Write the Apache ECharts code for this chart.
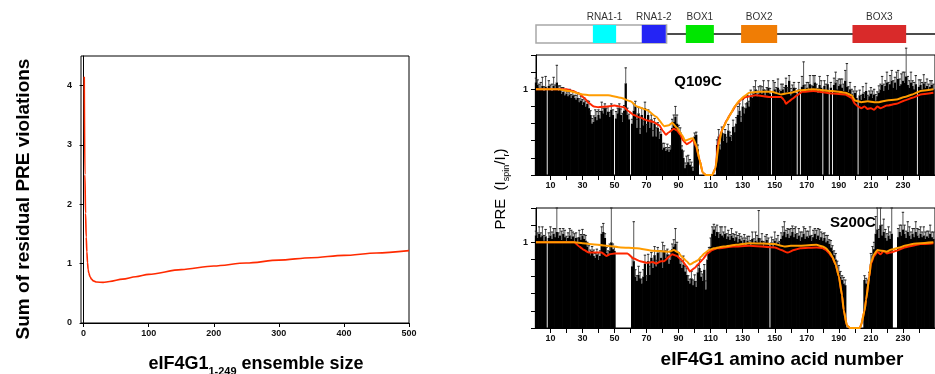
<!DOCTYPE html>
<html><head><meta charset="utf-8">
<script src="https://cdn.jsdelivr.net/npm/echarts@6/dist/echarts.min.js"></script>
<style>html,body{margin:0;padding:0;background:#fff}#c{width:935px;height:374px}</style>
</head><body><div id="c"></div><script>
// ---------- Left chart data ----------
const ensembleSize = [1,2,3,4,5,6,7,8,10,12,15,20,30,40,60,80,100,150,200,250,300,350,400,450,500];
const violationSum = [4.15,2.5,1.85,1.45,1.2,1.02,0.9,0.84,0.78,0.74,0.71,0.69,0.685,0.7,0.74,0.78,0.82,0.9,0.96,1.01,1.06,1.1,1.14,1.18,1.22];
const ensembleTicks = [0,100,200,300,400,500];
const violationTicks = [0,1,2,3,4];

// ---------- Domain diagram ----------
const domainNames  = ['', 'RNA1-1', 'RNA1-2', 'BOX1', 'BOX2', 'BOX3'];
const domainStart  = [1, 36.5, 67, 94.5, 129, 198.5];
const domainEnd    = [82.5, 51, 82, 112, 151.5, 232];
const domainColors = ['#ffffff', '#00ffff', '#2424f5', '#00e600', '#f07d05', '#d92a2a'];
const backbone = [[82.5, 0.5], [250, 0.5]];

// ---------- PRE panels ----------
const residueTicks = [10,20,30,40,50,60,70,80,90,100,110,120,130,140,150,160,170,180,190,200,210,220,230,240];
const residueLabels = [10,30,50,70,90,110,130,150,170,190,210,230];
const preTicks = [0,0.2,0.4,0.6,0.8,1,1.2,1.4];
const preLabels = [1];

const Q109C_pre = [
1.08,1.05,1.02,1.00,1.04,0.98,1.03,0,1.04,1.00,
0.98,1.04,1.00,1.08,0.98,1.00,0.95,0.97,0.93,0.95,
0.92,0.94,0.90,0.93,0.90,0.88,0.90,0.85,0.87,0.82,
0.85,0.80,0.83,0.78,0.70,0.60,0.62,0.68,0.64,0.70,
0.66,0.75,0.72,0.78,0.70,0.74,0.68,0.76,0.70,0,
0.66,0.72,0.78,0.70,0.62,0.75,1.07,0.70,0.65,0,
0.60,0.75,0.80,0.55,0.72,0.48,0.70,0.58,0.78,0.50,
0.70,0.55,0.65,0.45,0.60,0.45,0.55,0.42,0.48,0.30,
0.32,0.28,0.30,0.27,0.30,0.55,0.62,0.68,0.60,0.52,
0.50,0.30,0.20,0.08,0.12,0.15,0.12,0.10,0.05,0.45,
0.47,0.30,0,0,0,0,0,0,0,0,
0,0,0,0.35,0.45,0.30,0.50,0.40,0.48,0.38,
0.52,0.45,0.40,0.56,0.50,0.60,0.70,0.75,0.62,0.80,
0.72,0.78,0.85,0.80,0.92,0.90,0.95,1.00,0.92,0.95,
0.98,0.95,1.00,0.93,0.97,1.02,0.95,0,0.98,1.00,
0.96,1.02,0.94,0.98,1.00,0.95,1.05,0.97,1.10,0.93,
0.98,1.02,0.96,0,1.00,0,1.03,1.05,0.98,1.02,
1.00,1.06,0.98,1.04,1.08,1.00,0.96,1.05,1.02,0,
1.04,0.98,1.06,0,1.02,0,1.05,1.08,1.00,1.04,
1.06,1.02,0.98,1.10,1.03,0.97,1.00,0.95,0.92,0.96,
0.90,0,0.93,0.88,0.95,0.90,0.98,0.88,0.92,0.95,
0.90,0.94,0.87,0.92,0.96,1.00,1.05,0.98,1.04,1.08,
1.00,1.06,1.10,1.02,1.08,1.00,1.12,1.04,1.06,1.10,
1.08,1.15,1.05,1.02,1.08,1.04,1.00,1.06,0,1.03,
1.05,1.00,1.07,1.02,1.04,1.00,1.03,1.05,1.00];
const Q109C_err = [
.05,.06,.04,.08,.10,.05,.12,0,.06,.05,
.08,.10,.05,.20,.06,.04,.07,.05,.06,.04,
.05,.06,.04,.05,.03,.05,.06,.04,.05,.06,
.05,.06,.04,.08,.05,.06,.07,.08,.10,.06,
.08,.10,.06,.05,.08,.06,.05,.07,.06,0,
.08,.06,.05,.07,.10,.06,.18,.08,.06,0,
.05,.08,.06,.10,.07,.06,.08,.05,.07,.09,
.06,.08,.05,.07,.06,.10,.06,.08,.05,.07,
.05,.04,.06,.05,.04,.10,.08,.12,.10,.06,
.05,.04,.08,.06,.10,.08,.06,.05,.04,.04,
.03,.05,0,0,0,0,0,0,0,0,
0,0,0,.06,.08,.05,.06,.08,.05,.06,
.07,.05,.06,.08,.06,.07,.10,.08,.06,.08,
.06,.05,.08,.06,.07,.06,.08,.10,.06,.08,
.06,.08,.10,.06,.05,.08,.06,0,.12,.08,
.06,.10,.05,.08,.06,.07,.08,.05,.06,.08,
.07,.06,.05,0,.08,0,.12,.27,.07,.06,
.08,.10,.06,.12,.08,.06,.05,.10,.08,0,
.06,.08,.10,0,.06,0,.08,.12,.10,.08,
.06,.10,.08,.12,.27,.06,.08,.05,.06,.07,
.08,0,.06,.05,.08,.06,.09,.05,.06,.07,
.08,.06,.07,.05,.08,.06,.10,.08,.06,.12,
.08,.10,.12,.08,.06,.20,.10,.08,.12,.10,
.12,.33,.10,.08,.12,.06,.08,.10,0,.08,
.06,.08,.10,.06,.08,.06,.07,.05,.06];
const Q109C_fitOrange = [[1,1.0],[15,1.0],[22,0.98],[30,0.94],[34,0.93],[46,0.93],[54,0.9],[60,0.86],[64,0.8],[70,0.76],[76,0.68],[81,0.57],[84,0.58],[86,0.61],[89,0.55],[92,0.47],[94,0.4],[97,0.42],[99,0.43],[101,0.35],[103,0.18],[105,0.03],[107,0],[111,0],[113,0.08],[115,0.35],[117,0.52],[120,0.63],[122,0.7],[125,0.8],[128,0.87],[131,0.92],[134,0.96],[140,0.97],[148,0.97],[154,0.94],[157,0.95],[160,0.96],[166,0.99],[174,1.0],[186,0.98],[194,0.96],[198,0.93],[200,0.87],[204,0.85],[208,0.86],[212,0.85],[215,0.85],[220,0.87],[226,0.88],[231,0.91],[236,0.94],[241,0.98],[249,1.0]];
const Q109C_fitRed = [[1,1.0],[20,1.0],[24,0.98],[28,0.95],[31,0.9],[34,0.84],[37,0.8],[40,0.79],[46,0.8],[50,0.81],[53,0.8],[56,0.79],[59,0.74],[62,0.7],[66,0.67],[70,0.64],[74,0.62],[78,0.58],[80,0.52],[82,0.47],[84,0.5],[87,0.54],[89,0.52],[91,0.47],[93,0.4],[95,0.36],[97,0.38],[99,0.41],[101,0.33],[103,0.18],[105,0.03],[107,0],[111,0],[113,0.08],[115,0.42],[118,0.56],[120,0.64],[123,0.73],[126,0.82],[129,0.88],[132,0.91],[138,0.93],[148,0.91],[154,0.91],[156,0.87],[157,0.83],[159,0.86],[161,0.89],[164,0.93],[167,0.97],[174,0.98],[186,0.95],[194,0.94],[198,0.9],[200,0.83],[202,0.8],[204,0.78],[206,0.8],[208,0.77],[210,0.78],[212,0.76],[214,0.8],[216,0.78],[220,0.81],[226,0.83],[231,0.87],[236,0.9],[241,0.94],[249,0.96]];

const S200C_pre = [
1.08,1.05,1.10,1.06,1.08,1.02,1.07,0,1.05,1.08,
1.04,1.10,1.06,1.12,1.05,1.08,1.03,1.10,1.06,1.02,
1.05,1.08,1.04,1.07,1.02,1.05,1.00,1.06,1.03,1.08,
1.04,1.02,0.95,0.88,0.85,0.90,0.84,0.82,0.86,0.80,
0.84,1.10,1.12,1.05,0.88,0.85,0.90,1.00,0.92,0.90,
0,0,0,0,0,0,0,0,0,0,
0.72,0.78,0.60,0.55,0.62,0.58,0.52,0.60,0.75,0.55,
0.78,0.62,0.82,0.70,0.85,0.72,0.88,0.78,0.82,0.70,
0.90,0.82,0.86,0.75,0.80,0.92,0.95,0.98,0.90,0.82,
0.75,0.70,0.74,0.66,0.62,0.55,0.52,0.58,0.50,0.55,
0.48,0.65,0.70,0.60,0.55,0.68,0.45,0.80,0.88,0.95,
1.10,1.15,1.08,1.12,1.05,1.10,1.08,1.06,1.10,1.04,
1.07,1.03,1.08,1.05,1.02,1.06,1.00,1.04,1.02,0.98,
1.03,0.97,1.02,1.00,0.96,1.04,0.98,1.02,1.00,1.05,
0.98,1.02,0.96,1.00,1.03,0.97,0,1.00,0.95,1.02,
0.98,1.00,0.96,1.04,1.08,1.12,1.06,1.10,1.05,1.08,
1.12,1.06,1.10,1.04,1.08,1.02,1.06,1.10,1.04,1.07,
1.05,1.08,1.02,1.06,1.10,1.04,1.08,1.03,1.06,1.02,
1.05,1.00,1.02,0.98,0.94,0.90,0.85,0.80,0.72,0.65,
0.60,0.56,0.52,0.50,0,0,0,0,0,0,
0,0,0,0,0,0.56,0.52,0.48,0.55,0.75,
0.85,0.92,1.10,1.15,1.05,1.20,1.08,1.12,1.05,1.02,
1.08,1.04,1.10,0,0,0,1.06,1.12,1.08,1.15,
1.10,1.05,1.12,1.08,1.04,1.10,1.06,1.12,1.08,1.05,
1.10,1.06,1.08,1.04,1.07,1.05,1.10,1.06,1.04];
const S200C_err = [
.05,.06,.08,.05,.10,.06,.08,0,.06,.10,
.08,.06,.10,.28,.06,.08,.10,.06,.08,.05,
.06,.08,.10,.05,.08,.06,.05,.08,.06,.07,
.05,.06,.05,.08,.06,.05,.07,.05,.06,.08,
.06,.08,.10,.05,.06,.05,.08,.40,.06,.05,
0,0,0,0,0,0,0,0,0,0,
.10,.46,.08,.06,.10,.07,.05,.08,.10,.06,
.08,.10,.06,.08,.10,.07,.06,.12,.08,.30,
.06,.08,.06,.10,.08,.06,.08,.18,.10,.06,
.06,.08,.10,.06,.08,.06,.05,.08,.06,.07,
.06,.08,.10,.06,.08,.06,.10,.08,.06,.10,
.08,.06,.10,.08,.06,.08,.10,.06,.08,.06,
.07,.06,.08,.05,.07,.06,.08,.06,.05,.07,
.06,.08,.05,.07,.06,.08,.06,.10,.08,.32,
.06,.08,.05,.07,.06,.08,0,.06,.08,.10,
.06,.08,.05,.07,.10,.12,.08,.06,.10,.08,
.07,.10,.08,.06,.08,.10,.06,.08,.12,.06,
.08,.10,.06,.08,.06,.10,.08,.12,.06,.08,
.06,.08,.06,.05,.08,.06,.05,.07,.06,.08,
.06,.05,.07,.06,0,0,0,0,0,0,
0,0,0,0,0,.05,.06,.08,.10,.12,
.10,.08,.20,.25,.10,.20,.12,.15,.10,.08,
.10,.08,.30,0,0,0,.10,.08,.12,.20,
.10,.08,.12,.10,.08,.06,.10,.12,.08,.10,
.08,.06,.10,.08,.06,.08,.10,.06,.08];
const S200C_fitOrange = [[1,1.0],[25,1.0],[30,0.99],[34,0.98],[45,0.96],[54,0.94],[64,0.93],[74,0.9],[84,0.89],[87,0.91],[90,0.88],[92,0.83],[95,0.78],[97,0.74],[100,0.77],[102,0.79],[104,0.83],[106,0.87],[109,0.91],[112,0.93],[118,0.95],[126,0.97],[134,0.99],[150,0.98],[154,0.96],[156,0.95],[160,0.96],[166,0.96],[176,0.97],[180,0.95],[182,0.93],[184,0.89],[186,0.83],[188,0.74],[190,0.6],[192,0.38],[193,0.21],[195,0.03],[197,0],[203,0],[204,0.04],[206,0.2],[207,0.33],[209,0.6],[210,0.76],[212,0.86],[214,0.91],[217,0.9],[220,0.89],[222,0.91],[224,0.92],[228,0.94],[231,0.96],[236,0.98],[241,0.99],[249,1.0]];
const S200C_fitRed = [[1,1.0],[25,1.0],[28,0.95],[31,0.91],[34,0.88],[42,0.88],[45,0.84],[47,0.86],[50,0.87],[58,0.87],[62,0.81],[66,0.78],[70,0.76],[74,0.77],[76,0.75],[79,0.78],[81,0.78],[84,0.83],[86,0.86],[89,0.84],[92,0.79],[95,0.72],[97,0.66],[100,0.7],[102,0.74],[105,0.8],[108,0.87],[111,0.91],[114,0.93],[124,0.95],[134,0.96],[150,0.94],[154,0.91],[158,0.88],[162,0.91],[166,0.93],[176,0.94],[180,0.93],[182,0.91],[184,0.87],[186,0.82],[188,0.74],[190,0.6],[192,0.38],[193,0.21],[195,0.03],[197,0],[203,0],[204,0.04],[206,0.2],[207,0.33],[209,0.6],[210,0.75],[212,0.84],[214,0.89],[216,0.86],[218,0.9],[220,0.87],[222,0.88],[226,0.9],[231,0.94],[236,0.96],[241,0.98],[249,0.99]];

// ---------- build ----------
const FONT = '"Liberation Sans", Arial, sans-serif';
function barData(vals){ const out=[]; vals.forEach((v,i)=>{ if(v>0) out.push([i+1, v]); }); return out; }
function errData(vals, errs){ const out=[]; vals.forEach((v,i)=>{ if(v>0 && errs[i]>0) out.push([i+1, v, errs[i]]); }); return out; }
function errRender(params, api){
  const x=api.value(0), v=api.value(1), e=api.value(2);
  const p0=api.coord([x,v]), p1=api.coord([x,v+e]);
  return {type:'group', children:[
    {type:'line', shape:{x1:p0[0],y1:p0[1],x2:p1[0],y2:p1[1]}, style:{stroke:'#555', lineWidth:1}},
    {type:'line', shape:{x1:p1[0]-1.2,y1:p1[1],x2:p1[0]+1.2,y2:p1[1]}, style:{stroke:'#222', lineWidth:1}}
  ]};
}
function domainRender(params, api){
  const i=api.value(2);
  const a=api.coord([api.value(0),1]), b=api.coord([api.value(1),0]);
  const ch=[{type:'rect', shape:{x:a[0],y:a[1],width:b[0]-a[0],height:b[1]-a[1]},
    style:{fill:domainColors[i], stroke: i===0?'#a8a8a8':null, lineWidth: i===0?1.5:0}}];
  if(domainNames[i]) ch.push({type:'text', x:(a[0]+b[0])/2, y:a[1]-8,
    style:{text:domainNames[i], fill:'#333', font:'10px '+FONT, align:'center', verticalAlign:'middle'}});
  return {type:'group', children:ch};
}
const domainData = domainNames.map((n,i)=>[domainStart[i], domainEnd[i], i]);

function panelX(g){ return {gridIndex:g, type:'value', min:1, max:250,
  axisLine:{lineStyle:{color:'#000',width:1}}, axisTick:{length:5, customValues:residueTicks, lineStyle:{color:'#000'}},
  axisLabel:{customValues:residueLabels, fontSize:9, fontWeight:'bold', color:'#111', margin:6, fontFamily:FONT}, splitLine:{show:false}}; }
function panelY(g){ return {gridIndex:g, type:'value', min:0, max:1.4,
  axisLine:{lineStyle:{color:'#000',width:1}}, axisTick:{length:5, customValues:preTicks, lineStyle:{color:'#000'}},
  axisLabel:{customValues:preLabels, fontSize:9, fontWeight:'bold', color:'#111', margin:8, fontFamily:FONT}, splitLine:{show:false}}; }
function panelSeries(idx, vals, errs, red, orange){
  return [
    {type:'bar', xAxisIndex:idx, yAxisIndex:idx, data:barData(vals), barWidth:2.3, itemStyle:{color:'#000'}, z:2},
    {type:'custom', xAxisIndex:idx, yAxisIndex:idx, data:errData(vals,errs), renderItem:errRender, encode:{x:0,y:1}, clip:false, z:3},
    {type:'line', xAxisIndex:idx, yAxisIndex:idx, data:red, showSymbol:false, smooth:0.15, smoothMonotone:'x', lineStyle:{color:'#ff2600',width:2}, z:4},
    {type:'line', xAxisIndex:idx, yAxisIndex:idx, data:orange, showSymbol:false, smooth:0.15, smoothMonotone:'x', lineStyle:{color:'#ff9c00',width:2}, z:5}
  ];
}

const chart = echarts.init(document.getElementById('c'), null, {renderer:'canvas'});
chart.setOption({
  animation:false,
  backgroundColor:'#fff',
  textStyle:{fontFamily:FONT},
  grid:[
    {left:81, top:56, width:328, height:267, show:true, borderColor:'#000', borderWidth:1},
    {left:536, top:25, right:-9, height:18},
    {left:536, top:55, right:-9, height:120, show:true, borderColor:'#000', borderWidth:1},
    {left:536, top:208, right:-9, height:120, show:true, borderColor:'#000', borderWidth:1}
  ],
  xAxis:[
    {gridIndex:0, type:'value', min:-4, max:500, axisLine:{lineStyle:{color:'#000'}},
     axisTick:{length:4, customValues:ensembleTicks, lineStyle:{color:'#000'}},
     axisLabel:{customValues:ensembleTicks, fontSize:9, fontWeight:'bold', color:'#111', margin:6}, splitLine:{show:false}},
    {gridIndex:1, type:'value', min:1, max:250, show:false},
    panelX(2), panelX(3)
  ],
  yAxis:[
    {gridIndex:0, type:'value', min:0, max:4.5, axisLine:{lineStyle:{color:'#000'}},
     axisTick:{length:4, customValues:violationTicks, lineStyle:{color:'#000'}},
     axisLabel:{customValues:violationTicks, fontSize:9, fontWeight:'bold', color:'#111', margin:9}, splitLine:{show:false}},
    {gridIndex:1, type:'value', min:0, max:1, show:false},
    panelY(2), panelY(3)
  ],
  series:[
    {type:'line', xAxisIndex:0, yAxisIndex:0, data:ensembleSize.map((x,i)=>[x, violationSum[i]]), showSymbol:false,
     smooth:0.3, smoothMonotone:'x', lineStyle:{color:'#ff2a00', width:1.6}},
    {type:'line', xAxisIndex:1, yAxisIndex:1, data:backbone, showSymbol:false, lineStyle:{color:'#111', width:1.5}, z:1},
    {type:'custom', xAxisIndex:1, yAxisIndex:1, data:domainData, renderItem:domainRender, encode:{x:[0,1]}, clip:false, z:2},
    ...panelSeries(2, Q109C_pre, Q109C_err, Q109C_fitRed, Q109C_fitOrange),
    ...panelSeries(3, S200C_pre, S200C_err, S200C_fitRed, S200C_fitOrange)
  ],
  graphic:[
    {type:'text', x:24, y:199, rotation:Math.PI/2, z:10,
     style:{text:'Sum of residual PRE violations', font:'bold 19px '+FONT, fill:'#000', align:'center', verticalAlign:'middle'}},
    {type:'text', x:256, y:364, z:10,
     style:{text:'{a|eIF4G1}{s|1-249}{a| ensemble size}', align:'center', verticalAlign:'middle',
       rich:{a:{font:'bold 18px '+FONT, fill:'#000', lineHeight:26, verticalAlign:'middle'},
             s:{font:'bold 11px '+FONT, fill:'#000', verticalAlign:'bottom'}}}},
    {type:'text', x:501, y:189, rotation:Math.PI/2, z:10,
     style:{text:'{a|PRE  (I}{s|spin}{a|/I}{s|r}{a|)}', align:'center', verticalAlign:'middle',
       rich:{a:{font:'15px '+FONT, fill:'#000', lineHeight:20, verticalAlign:'middle'},
             s:{font:'9px '+FONT, fill:'#000', verticalAlign:'bottom'}}}},
    {type:'text', x:782, y:360, z:10,
     style:{text:'eIF4G1 amino acid number', font:'bold 19px '+FONT, fill:'#000', align:'center', verticalAlign:'middle'}},
    {type:'text', x:698, y:82, z:10,
     style:{text:'Q109C', font:'bold 15px '+FONT, fill:'#000', align:'center', verticalAlign:'middle'}},
    {type:'text', x:853, y:223, z:10,
     style:{text:'S200C', font:'bold 15px '+FONT, fill:'#000', align:'center', verticalAlign:'middle'}}
  ]
});
</script></body></html>
